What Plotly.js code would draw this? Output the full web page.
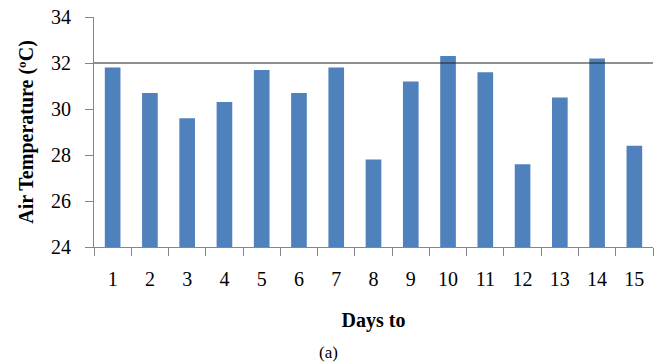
<!DOCTYPE html>
<html>
<head>
<meta charset="utf-8">
<script src="https://cdn.plot.ly/plotly-3.0.1.min.js"></script>
<style>html,body{margin:0;padding:0;background:#fff}#chart{width:663px;height:364px}</style>
</head>
<body>
<div id="chart"></div>
<script>
const days = ['1','2','3','4','5','6','7','8','9','10','11','12','13','14','15'];
const airTemp = [31.8, 30.7, 29.6, 30.3, 31.7, 30.7, 31.8, 27.8, 31.2, 32.3, 31.6, 27.6, 30.5, 32.2, 28.4];
const threshold = 32;
const yTicks = [24, 26, 28, 30, 32, 34];

const serif = 'Liberation Serif';
const axisGray = '#868686';

const data = [{
  type: 'bar',
  x: days,
  y: airTemp,
  width: 0.42,
  marker: {color: '#4F81BD', line: {width: 0}},
  hoverinfo: 'skip'
}];

const layout = {
  width: 663, height: 364,
  margin: {l: 94, r: 10, t: 17, b: 117},
  paper_bgcolor: '#fff', plot_bgcolor: '#fff',
  showlegend: false,
  font: {family: serif, color: '#000', size: 20},
  xaxis: {
    type: 'category',
    tickson: 'boundaries',
    ticks: 'outside', ticklen: 8, tickcolor: axisGray, tickwidth: 1,
    ticklabelstandoff: 14,
    showline: true, linecolor: axisGray, linewidth: 1,
    showgrid: false, zeroline: false,
    tickfont: {family: serif, size: 20, color: '#000'},
    title: {text: '<b>Days to</b>', font: {family: serif, size: 20, color: '#000'}, standoff: 23}
  },
  yaxis: {
    range: [24, 34],
    tickvals: yTicks,
    ticktext: yTicks.map(String),
    ticks: 'outside', ticklen: 8, tickcolor: axisGray, tickwidth: 1,
    ticklabelstandoff: 10,
    showline: true, linecolor: axisGray, linewidth: 1,
    showgrid: false, zeroline: false,
    tickfont: {family: serif, size: 20, color: '#000'},
    title: {text: '<b>Air Temperature (ºC)</b>', font: {family: serif, size: 20, color: '#000'}, standoff: 12}
  },
  shapes: [{
    type: 'line', xref: 'paper', yref: 'y',
    x0: 0, x1: 1, y0: threshold, y1: threshold,
    line: {color: '#222', width: 1.2}
  }],
  annotations: [{
    text: '(a)', xref: 'paper', yref: 'paper',
    x: (328 - 94) / (663 - 94 - 10), y: -(352 - 247) / (364 - 17 - 117),
    xanchor: 'center', yanchor: 'middle', showarrow: false,
    font: {family: serif, size: 17, color: '#000'}
  }]
};

Plotly.newPlot('chart', data, layout, {staticPlot: true, displayModeBar: false});
</script>
</body>
</html>
